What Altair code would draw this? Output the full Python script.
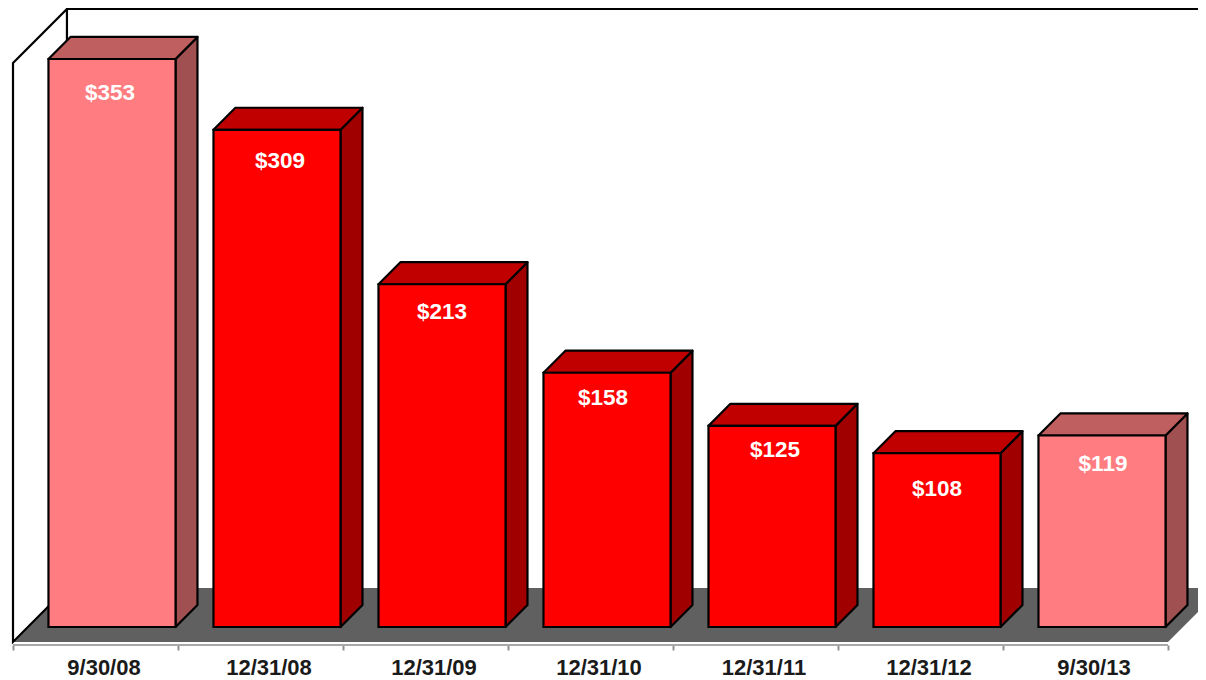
import altair as alt
import pandas as pd

dates = ["9/30/08", "12/31/08", "12/31/09", "12/31/10", "12/31/11", "12/31/12", "9/30/13"]
values = [353, 309, 213, 158, 125, 108, 119]
highlighted = [True, False, False, False, False, False, True]

# Scale geometry, in data units (categories on x, dollars on y)
BAR_LEFT = 0.215
BAR_WIDTH = 0.77
DEPTH_X = 0.133
DEPTH_Y = 13.7
FLOOR_FRONT = -9.3
FLOOR_DX = 0.327
FLOOR_DY = 33.6
WALL_TOP = 384.1
AXIS_Y = -11.2
X_MIN, X_MAX = -0.0303, 7.1818
N = len(values)

FONT = "Liberation Sans"
FRONT = {True: "#FF7C80", False: "#FF0000"}
TOP = {True: "#C05F60", False: "#C00000"}
SIDE = {True: "#A05050", False: "#A00000"}
FLOOR_COLOR = "#606060"
EDGE = "#000000"
EDGE_W = 2.2

xs = alt.Scale(domain=[X_MIN, X_MAX], nice=False, zero=False)
ys = alt.Scale(domain=[AXIS_Y, 384.7], nice=False, zero=False)

tick_vals = [k / 2 for k in range(2 * N + 1)]
label_expr = "datum.value % 1 == 0 ? '' : [" + ",".join(f"'{d}'" for d in dates) + "][floor(datum.value)]"
x_axis = alt.Axis(
    values=tick_vals, domain=False, grid=False, title=None, labelExpr=label_expr,
    labelFont=FONT, labelFontSize=22, labelFontWeight="bold", labelColor="#1A1A1A",
    labelPadding=7, labelOverlap=False, labelFlush=False, labelOffset=8,
    tickSize=5, tickWidth=2,
    tickColor={"condition": {"test": "datum.value % 1 == 0", "value": "#909090"}, "value": "transparent"},
)

X = alt.X("x:Q", scale=xs, axis=x_axis)
Y = alt.Y("y:Q", scale=ys, axis=None)
Y2 = alt.Y2("y2:Q")

# faces of every bar
faces = []
fronts = []
for i, (v, h) in enumerate(zip(values, highlighted)):
    l = i + BAR_LEFT
    r = l + BAR_WIDTH
    fronts.append({"x": l, "x2": r, "y": 0, "y2": v, "fill": FRONT[h], "cx": l + BAR_WIDTH / 2, "v": v,
                   "label": f"${v}"})
    pid = f"side{i}"
    faces += [
        {"id": pid, "x": r, "y": v, "y2": 0, "fill": SIDE[h]},
        {"id": pid, "x": r + DEPTH_X, "y": v + DEPTH_Y, "y2": DEPTH_Y, "fill": SIDE[h]},
    ]
    pid = f"top{i}"
    faces += [
        {"id": pid, "x": l, "y": v, "y2": v, "fill": TOP[h]},
        {"id": pid, "x": l + DEPTH_X, "y": v + DEPTH_Y, "y2": v, "fill": TOP[h]},
        {"id": pid, "x": r, "y": v + DEPTH_Y, "y2": v, "fill": TOP[h]},
        {"id": pid, "x": r + DEPTH_X, "y": v + DEPTH_Y, "y2": v + DEPTH_Y, "fill": TOP[h]},
    ]
faces = pd.DataFrame(faces)
fronts = pd.DataFrame(fronts)

floor = alt.Chart(pd.DataFrame([
    {"x": 0, "y": FLOOR_FRONT, "y2": FLOOR_FRONT},
    {"x": FLOOR_DX, "y": FLOOR_FRONT + FLOOR_DY, "y2": FLOOR_FRONT},
    {"x": N, "y": FLOOR_FRONT + FLOOR_DY, "y2": FLOOR_FRONT},
    {"x": N + FLOOR_DX, "y": FLOOR_FRONT + FLOOR_DY, "y2": FLOOR_FRONT + FLOOR_DY},
])).mark_area(color=FLOOR_COLOR, clip=True).encode(x=X, y=Y, y2=Y2)

wall = alt.Chart(pd.DataFrame([
    {"x": 0, "y": WALL_TOP - FLOOR_DY, "y2": FLOOR_FRONT},
    {"x": FLOOR_DX, "y": WALL_TOP, "y2": FLOOR_FRONT + FLOOR_DY},
])).mark_area(fill="#FFFFFF", stroke=EDGE, strokeWidth=EDGE_W).encode(x=X, y=Y, y2=Y2)

wall_top = alt.Chart(pd.DataFrame([{"x": FLOOR_DX, "x2": X_MAX, "y": WALL_TOP}])).mark_rule(
    color=EDGE, strokeWidth=EDGE_W
).encode(x=X, x2="x2:Q", y=Y)

face_layer = alt.Chart(faces).mark_area(stroke=EDGE, strokeWidth=EDGE_W, strokeJoin="round").encode(
    x=X, y=Y, y2=Y2, detail="id:N", fill=alt.Fill("fill:N", scale=None)
)

front_layer = alt.Chart(fronts).mark_rect(stroke=EDGE, strokeWidth=EDGE_W).encode(
    x=X, x2="x2:Q", y=Y, y2=Y2, fill=alt.Fill("fill:N", scale=None)
)

# Labels sit just under each bar's top; the source nudged them individually
nudges = [(-2, 34), (3, 31), (0, 28), (-4, 25), (3, 24), (0, 36), (1, 28)]
label_layers = []
for i, (dx, dy) in enumerate(nudges):
    label_layers.append(
        alt.Chart(fronts.iloc[[i]]).mark_text(
            font=FONT, fontSize=22.5, fontWeight="bold", color="#FFFFFF", dx=dx, dy=dy, baseline="middle"
        ).encode(x=alt.X("cx:Q", scale=xs, axis=x_axis), y=alt.Y("v:Q", scale=ys, axis=None), text="label:N")
    )

axis_line = alt.Chart(pd.DataFrame([{"x": 0, "x2": N, "y": AXIS_Y}])).mark_rule(
    color="#A8A8A8", strokeWidth=2
).encode(x=X, x2="x2:Q", y=Y)

chart = alt.layer(floor, wall, wall_top, face_layer, front_layer, *label_layers, axis_line).properties(
    width=1190, height=637,
    autosize=alt.AutoSizeParams(type="none"),
    padding={"left": 0, "top": 0, "right": 0, "bottom": 36},
).configure_view(stroke=None)

chart.save("out.html", embed_options={"renderer": "svg", "actions": False})
